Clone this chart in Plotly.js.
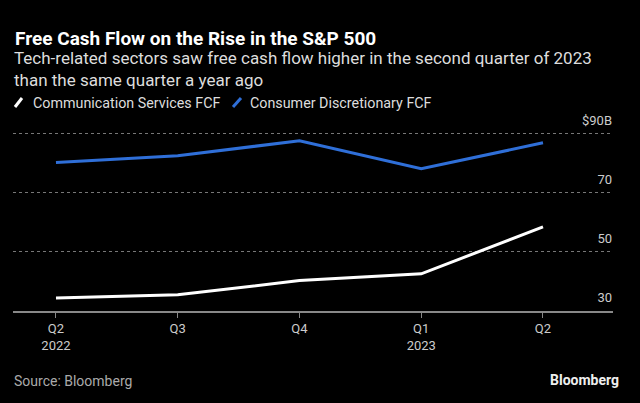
<!DOCTYPE html>
<html>
<head>
<meta charset="utf-8">
<script src="https://cdn.plot.ly/plotly-3.0.1.min.js"></script>
<style>
html,body{margin:0;padding:0;background:#000;}
#chart{width:640px;height:403px;}
</style>
</head>
<body>
<div id="chart"></div>
<script>
const quarters = ["Q2 2022", "Q3 2022", "Q4 2022", "Q1 2023", "Q2 2023"];
const tickLabels = ["Q2<br>2022", "Q3", "Q4", "Q1<br>2023", "Q2"];
const commServices = [34.4, 35.5, 40.3, 42.6, 58.5];
const consumerDisc = [80.3, 82.6, 87.7, 78.2, 87.0];
const seriesNames = ["Communication Services FCF", "Consumer Discretionary FCF"];
const seriesColors = ["#ffffff", "#2f6fd8"];
const yTicks = [30, 50, 70, 90];
const yTickLabels = ["30", "50", "70", "$90B"];

const FONT = "Roboto, 'Open Sans', sans-serif";
const xIdx = quarters.map((q, i) => i);

const traces = [
  {x: xIdx, y: commServices, name: seriesNames[0], type: "scatter", mode: "lines",
   line: {color: seriesColors[0], width: 3}},
  {x: xIdx, y: consumerDisc, name: seriesNames[1], type: "scatter", mode: "lines",
   line: {color: seriesColors[1], width: 3}}
];

const M = {l: 13, r: 27, t: 108, b: 92};
const plotH = 403 - M.t - M.b;
const plotW = 640 - M.l - M.r;
function py(pix) { return (403 - M.b - pix) / plotH; }
function px(pix) { return (pix - M.l) / plotW; }

const annotations = [
  {x: px(13), y: py(38), xanchor: "left", yanchor: "middle",
   text: "<b>Free Cash Flow on the Rise in the S&P 500</b>",
   font: {size: 19, color: "#ffffff", family: FONT}},
  {x: px(12), y: py(46), xanchor: "left", yanchor: "top", align: "left",
   text: "Tech-related sectors saw free cash flow higher in the second quarter of 2023<br>than the same quarter a year ago",
   font: {size: 17, color: "#dddddd", family: FONT}},
  {x: px(31), y: py(103), xanchor: "left", yanchor: "middle",
   text: seriesNames[0], font: {size: 14.3, color: "#dddddd", family: FONT}},
  {x: px(248), y: py(103), xanchor: "left", yanchor: "middle",
   text: seriesNames[1], font: {size: 14.3, color: "#dddddd", family: FONT}},
  {x: px(12), y: py(381), xanchor: "left", yanchor: "middle",
   text: "Source: Bloomberg", font: {size: 14, color: "#aaaaaa", family: FONT}},
  {x: px(621), y: py(380), xanchor: "right", yanchor: "middle",
   text: "<b>Bloomberg</b>", font: {size: 14, color: "#eeeeee", family: FONT}}
].map(a => Object.assign({xref: "paper", yref: "paper", showarrow: false}, a));

const shapes = [
  {x0: px(15), y0: py(107), x1: px(22), y1: py(98), color: seriesColors[0]},
  {x0: px(233), y0: py(107), x1: px(241), y1: py(98), color: seriesColors[1]}
].map(s => ({type: "line", xref: "paper", yref: "paper", x0: s.x0, y0: s.y0, x1: s.x1, y1: s.y1,
             line: {color: s.color, width: 3}}));

const layout = {
  width: 640, height: 403,
  paper_bgcolor: "#000", plot_bgcolor: "#000",
  margin: M,
  font: {family: FONT, color: "#cccccc", size: 13},
  showlegend: false,
  xaxis: {
    range: [-0.353, 4.575], tickmode: "array", tickvals: xIdx, ticktext: tickLabels,
    showgrid: false, zeroline: false, showline: true, linecolor: "#888888", linewidth: 1.5,
    ticks: "outside", ticklen: 5, tickcolor: "#888888", tickwidth: 1,
    tickfont: {size: 13, color: "#cccccc"}, fixedrange: true, automargin: false
  },
  yaxis: {
    range: [30, 98.8], side: "right", tickmode: "array", tickvals: yTicks, ticktext: yTickLabels,
    ticklabelposition: "inside", ticklabelshift: -14, ticklabelstandoff: -2,
    showgrid: true, gridcolor: "#777777", griddash: "dot", gridwidth: 1,
    zeroline: false, showline: false, ticks: "",
    tickfont: {size: 13, color: "#cccccc"}, fixedrange: true, automargin: false
  },
  annotations: annotations,
  shapes: shapes
};

Plotly.newPlot("chart", traces, layout, {displayModeBar: false, staticPlot: true});
</script>
</body>
</html>
